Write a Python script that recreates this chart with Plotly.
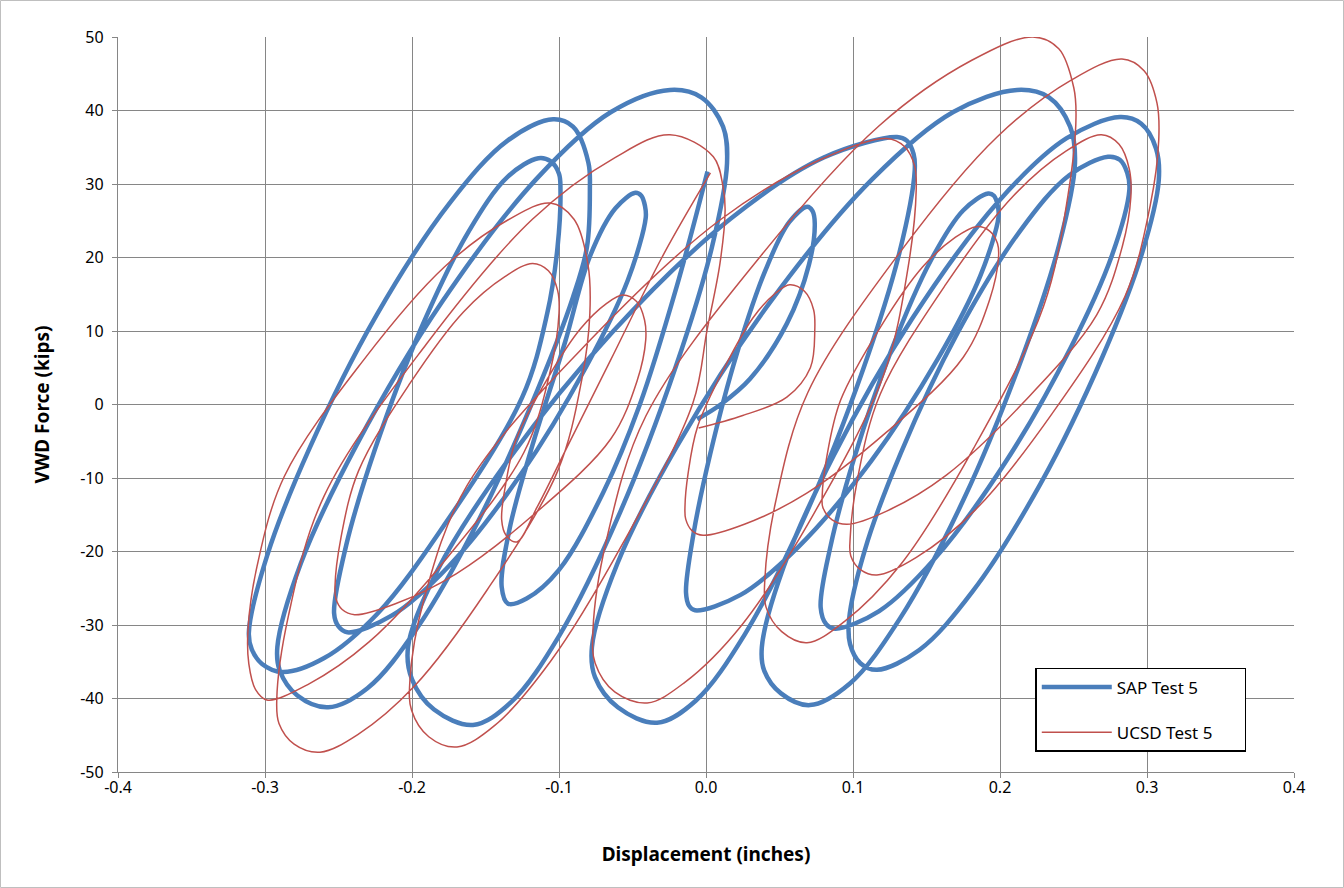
import plotly.graph_objects as go

# SAP Test 5 (blue) path: (displacement in, force kips)
sap_pts = [
    (0.001, 31.7), (-0.02, 16.0), (-0.045, 0.0), (-0.07, -12.0), (-0.1, -22.5), (-0.122, -26.4),
    (-0.1347, -27.1), (-0.139, -24.8),
    (-0.1335, -16.8), (-0.118, -5.5), (-0.096, 8.4), (-0.0789, 20.2), (-0.0616, 26.7), (-0.048, 28.8),
    (-0.044, 28.4), (-0.0415, 27.0), (-0.041, 25.4),
    (-0.0532, 16.9), (-0.0816, 5.1), (-0.1263, -9.6), (-0.175, -22.0), (-0.2136, -28.7), (-0.244, -31.0),
    (-0.250, -30.2), (-0.253, -28.4),
    (-0.2447, -19.1), (-0.2252, -6.1), (-0.1946, 10.0), (-0.1613, 23.6), (-0.1348, 31.0), (-0.114, 33.5),
    (-0.1058, 33.1), (-0.100, 31.4), (-0.099, 29.2),
    (-0.101, 21.4), (-0.108, 12.4), (-0.125, 1.0), (-0.1784, -16.5), (-0.2237, -28.5), (-0.2597, -34.5),
    (-0.288, -36.4),
    (-0.302, -35.3), (-0.309, -33.3), (-0.311, -31.1),
    (-0.2986, -20.6), (-0.2696, -5.9), (-0.224, 12.2), (-0.174, 27.5), (-0.135, 35.9), (-0.104, 38.8),
    (-0.0905, 37.8), (-0.080, 32.9), (-0.079, 29.2),
    (-0.081, 21.4), (-0.0905, 14.6), (-0.1146, 2.0), (-0.1538, -15.4), (-0.1965, -30.4), (-0.2303, -38.6),
    (-0.257, -41.2),
    (-0.278, -39.6), (-0.290, -36.2), (-0.2916, -33.0),
    (-0.2756, -21.6), (-0.2382, -5.7), (-0.1794, 14.0), (-0.1153, 30.7), (-0.0646, 39.8), (-0.0245, 42.8),
    (-0.0032, 41.8), (0.0116, 37.8), (0.0143, 32.8),
    (0.0039, 21.3), (-0.0203, 5.3), (-0.0583, -14.6), (-0.0997, -31.4), (-0.1326, -40.5), (-0.1585, -43.6),
    (-0.185, -41.5), (-0.200, -37.4), (-0.2027, -33.0),
    (-0.1827, -22.6), (-0.1362, -8.0), (-0.063, 10.0), (0.0169, 25.3), (0.0801, 33.6), (0.130, 36.4),
    (0.1366, 35.9), (0.1412, 34.1), (0.142, 31.9),
    (0.1315, 20.6), (0.1069, 4.8), (0.0684, -14.7), (0.0263, -31.3), (-0.007, -40.3), (-0.0333, -43.3),
    (-0.060, -41.2), (-0.0755, -37.1), (-0.0776, -33.0),
    (-0.0602, -21.6), (-0.0198, -5.7), (0.0439, 14.0), (0.1133, 30.7), (0.1682, 39.8), (0.2116, 42.8),
    (0.2333, 41.8), (0.2477, 37.8), (0.251, 32.8),
    (0.2402, 21.7), (0.2149, 6.3), (0.1753, -12.9), (0.132, -29.1), (0.0977, -38.0), (0.0707, -40.9),
    (0.051, -39.3), (0.0396, -36.2), (0.038, -33.0),
    (0.0526, -22.2), (0.0867, -7.0), (0.1403, 11.7), (0.1988, 27.6), (0.2451, 36.2), (0.2816, 39.1),
    (0.2961, 38.2), (0.3062, 34.8), (0.308, 30.5),
    (0.2965, 20.5), (0.2697, 6.5), (0.2275, -10.8), (0.1815, -25.4), (0.1451, -33.4), (0.1163, -36.1),
    (0.105, -35.2), (0.098, -32.6), (0.0973, -29.3),
    (0.1079, -19.9), (0.1325, -6.6), (0.1713, 9.8), (0.2136, 23.6), (0.2471, 31.2), (0.2735, 33.7),
    (0.2815, 33.3), (0.2866, 31.5), (0.288, 29.2),
    (0.276, 20.2), (0.248, 7.7), (0.2039, -7.8), (0.1559, -20.9), (0.1178, -28.1), (0.0878, -30.5),
    (0.0818, -29.9), (0.078, -27.6),
    (0.0848, -19.2), (0.1008, -7.3), (0.1259, 7.3), (0.1532, 19.7), (0.1749, 26.4), (0.192, 28.7),
    (0.1959, 28.4), (0.1985, 27.0), (0.199, 25.5),
    (0.1866, 17.5), (0.1577, 6.2), (0.1123, -7.7), (0.0627, -19.4), (0.0235, -25.9), (-0.0075, -28.0),
    (-0.0115, -27.4), (-0.0136, -25.6),
    (-0.0086, -17.7), (0.0029, -6.7), (0.0211, 7.0), (0.0409, 18.5), (0.0566, 24.8), (0.069, 26.9),
    (0.0725, 26.3), (0.074, 24.6),
    (0.070, 19.0), (0.055, 11.0), (0.030, 3.5), (0.010, 0.0), (-0.006, -2.0),
]

# UCSD Test 5 (red) path
ucsd_pts = [
    (0.003, 31.5), (-0.03, 20.0), (-0.065, 6.0), (-0.095, -6.0), (-0.115, -14.0), (-0.1286, -18.7),
    (-0.136, -17.8), (-0.139, -15.7),
    (-0.1365, -11.1), (-0.1291, -4.7), (-0.1076, 3.6), (-0.0854, 10.3), (-0.068, 13.7), (-0.0565, 14.9),
    (-0.0472, 14.0), (-0.0418, 11.5), (-0.041, 8.8),
    (-0.0469, 3.2), (-0.0648, -4.7), (-0.1162, -14.8), (-0.1697, -23.0), (-0.2113, -27.1), (-0.239, -28.6),
    (-0.2475, -27.9), (-0.2518, -26.4), (-0.2524, -24.8),
    (-0.2484, -18.2), (-0.2363, -9.0), (-0.2013, 2.9), (-0.165, 12.6), (-0.1368, 17.4), (-0.118, 19.2),
    (-0.1072, 18.2), (-0.1009, 15.5), (-0.100, 12.4),
    (-0.106, 4.5), (-0.1238, -6.5), (-0.1755, -20.7), (-0.2292, -32.3), (-0.2709, -38.1), (-0.2987, -40.2),
    (-0.3064, -38.8), (-0.3110, -35.3), (-0.3116, -30.7),
    (-0.3054, -22.0), (-0.2869, -9.8), (-0.2335, 5.9), (-0.178, 18.7), (-0.1348, 25.1), (-0.106, 27.4),
    (-0.0898, 25.2), (-0.0804, 19.2), (-0.079, 12.4),
    (-0.0845, 3.4), (-0.101, -9.1), (-0.1488, -25.2), (-0.1983, -38.3), (-0.2369, -44.9), (-0.2626, -47.3),
    (-0.2802, -46.2), (-0.2905, -43.4), (-0.292, -40.2),
    (-0.284, -28.7), (-0.2599, -12.5), (-0.1903, 8.2), (-0.1181, 25.2), (-0.0619, 33.6), (-0.0245, 36.7),
    (0.005, 33.7), (0.0116, 29.6), (0.013, 26.5),
    (0.0095, 19.2), (0.0007, 10.1), (-0.0089, 0.2), (-0.0563, -18.8), (-0.1056, -34.9), (-0.1439, -43.7),
    (-0.1694, -46.6),
    (-0.1886, -45.2), (-0.2003, -41.6), (-0.2014, -37.5),
    (-0.1917, -26.4), (-0.1625, -11.0), (-0.0781, 8.9), (0.0095, 25.1), (0.0776, 33.3), (0.123, 36.2),
    (0.135, 35.1), (0.142, 32.4), (0.143, 29.2),
    (0.1375, 18.7), (0.121, 4.1), (0.0735, -14.8), (0.024, -30.1), (-0.0144, -37.8), (-0.040, -40.6),
    (-0.0621, -39.1), (-0.0754, -35.2), (-0.0769, -30.7),
    (-0.0679, -18.6), (-0.041, -1.6), (0.0368, 20.1), (0.1176, 37.9), (0.1805, 46.8), (0.2224, 50.0),
    (0.240, 48.4), (0.2502, 43.1), (0.2517, 39.1),
    (0.2462, 28.4), (0.2297, 13.4), (0.1822, -5.9), (0.1327, -21.7), (0.0943, -29.5), (0.0687, -32.4),
    (0.0515, -30.9), (0.0409, -27.6), (0.040, -23.9),
    (0.0473, -13.3), (0.0692, 1.6), (0.1323, 20.8), (0.198, 36.4), (0.249, 44.2), (0.283, 47.0),
    (0.298, 45.4), (0.3068, 41.0), (0.308, 36.0),
    (0.3022, 27.1), (0.285, 14.7), (0.2352, -1.3), (0.1834, -14.3), (0.1431, -20.8), (0.1163, -23.2),
    (0.1053, -22.5), (0.0985, -20.6), (0.098, -18.4),
    (0.1031, -10.1), (0.1185, 1.4), (0.163, 16.3), (0.2092, 28.4), (0.2451, 34.5), (0.269, 36.7),
    (0.281, 35.4), (0.288, 32.0), (0.289, 28.2),
    (0.2832, 21.5), (0.2658, 12.2), (0.2156, 0.2), (0.1635, -9.6), (0.1229, -14.5), (0.0959, -16.3),
    (0.0858, -15.7), (0.0795, -14.0), (0.079, -12.6),
    (0.0822, -7.1), (0.0916, 0.6), (0.1189, 10.6), (0.1473, 18.7), (0.1693, 22.7), (0.184, 24.2),
    (0.193, 23.6), (0.1983, 21.9), (0.199, 20.0),
    (0.193, 14.3), (0.1749, 6.4), (0.1226, -3.8), (0.0683, -12.1), (0.0261, -16.3), (-0.002, -17.8),
    (-0.0094, -17.2), (-0.0138, -15.6), (-0.0143, -13.9),
    (-0.0122, -9.4), (-0.0057, -3.0), (0.0128, 5.1), (0.032, 11.8), (0.047, 15.1), (0.057, 16.3),
    (0.067, 15.4), (0.0732, 12.9), (0.074, 10.1),
    (0.071, 5.0), (0.055, 1.0), (0.025, -1.5), (-0.005, -3.2),
]

sap_x = [p[0] for p in sap_pts]
sap_y = [p[1] for p in sap_pts]
ucsd_x = [p[0] for p in ucsd_pts]
ucsd_y = [p[1] for p in ucsd_pts]

x_ticks = [-0.4, -0.3, -0.2, -0.1, 0.0, 0.1, 0.2, 0.3, 0.4]
y_ticks = [50, 40, 30, 20, 10, 0, -10, -20, -30, -40, -50]

BLUE = "#4A7EBB"
RED = "#C0504D"
GRID = "#868686"
FONT = "Noto Sans"
PAD = "\u00a0" * 6

fig = go.Figure()
fig.add_trace(go.Scatter(x=sap_x, y=sap_y, mode="lines", name="SAP Test 5" + PAD, legendgroup="a",
                         line=dict(color=BLUE, width=4.5, shape="spline", smoothing=1.0)))
fig.add_trace(go.Scatter(x=ucsd_x, y=ucsd_y, mode="lines", name="UCSD Test 5" + PAD, legendgroup="b",
                         line=dict(color=RED, width=1.5, shape="spline", smoothing=1.0)))

fig.update_layout(
    width=1344, height=888,
    margin=dict(l=118, r=50, t=37, b=116),
    paper_bgcolor="white", plot_bgcolor="white",
    font=dict(family=FONT, size=16, color="black"),
    showlegend=True,
    legend=dict(x=0.78, y=0.1415, xanchor="left", yanchor="top",
                bordercolor="black", borderwidth=1.5, bgcolor="white",
                font=dict(family=FONT, size=17), tracegroupgap=20,
                itemwidth=70, traceorder="grouped"),
    xaxis=dict(range=[-0.4, 0.4], tickvals=x_ticks,
               ticktext=[f"{v:.1f}" for v in x_ticks],
               showgrid=True, gridcolor=GRID, gridwidth=1.3,
               zeroline=False, showline=True, linecolor=GRID, linewidth=1.3,
               ticks="outside", ticklen=5, tickcolor=GRID, ticklabelstandoff=-4,
               title=dict(text="<b>Displacement (inches)</b>", font=dict(size=19), standoff=50)),
    yaxis=dict(range=[-50, 50], tickvals=y_ticks,
               ticktext=[str(v) for v in y_ticks],
               showgrid=True, gridcolor=GRID, gridwidth=1.3,
               zeroline=False, showline=True, linecolor=GRID, linewidth=1.3,
               ticks="outside", ticklen=5, tickcolor=GRID, ticklabelstandoff=5,
               title=dict(text="<b>VWD Force (kips)</b>", font=dict(size=19), standoff=25)),
    shapes=[dict(type="rect", xref="paper", yref="paper",
                 x0=-117.5/1176, x1=1 + 49.5/1176, y0=-115.5/735, y1=1 + 36.5/735,
                 line=dict(color="#BFBFBF", width=1))],
)

fig.write_html("out.html")
